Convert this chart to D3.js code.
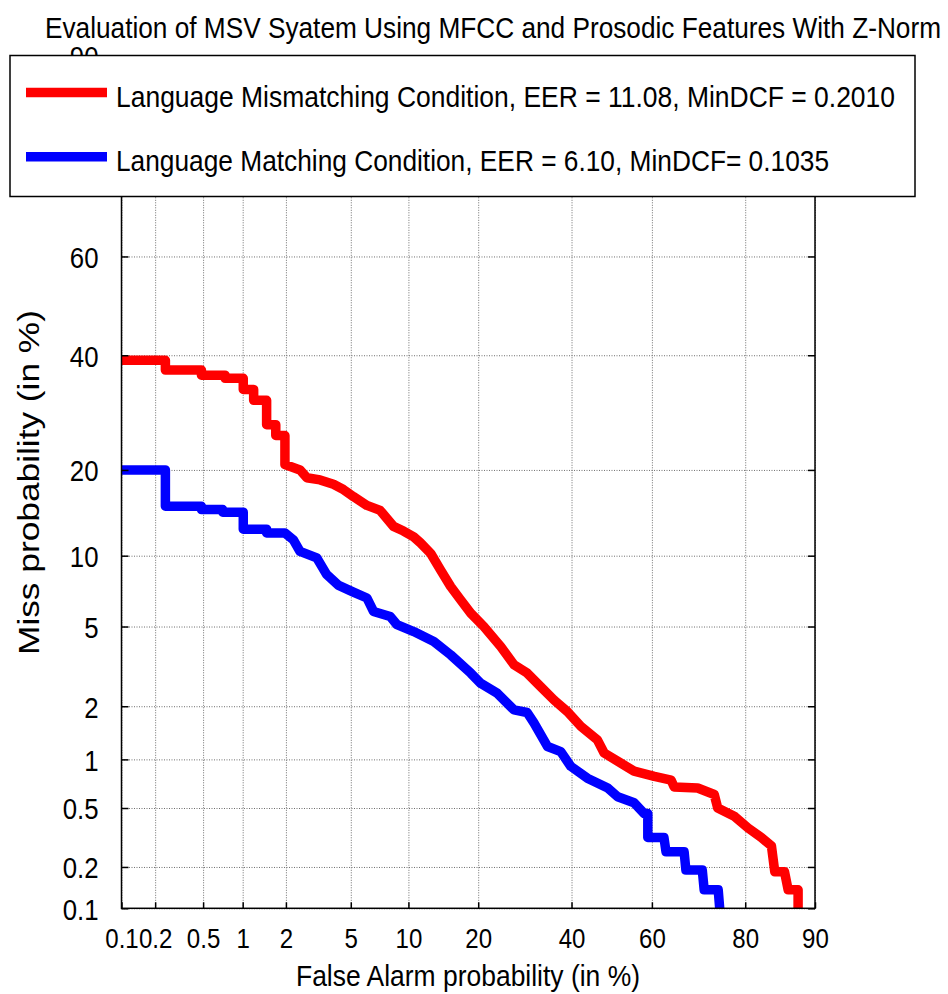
<!DOCTYPE html>
<html>
<head>
<meta charset="utf-8">
<script src="https://cdn.jsdelivr.net/npm/d3@7"></script>
<style>
    body { margin: 0; background: #fff; }
    svg text { font-family: "Liberation Sans", Arial, sans-serif; fill: #000; }
</style>
</head>
<body>
<div id="det-plot"></div>
<script>
// values (percent)
const xTicks = [0.1, 0.2, 0.5, 1, 2, 5, 10, 20, 40, 60, 80, 90];
const yTicks = [0.1, 0.2, 0.5, 1, 2, 5, 10, 20, 40, 60, 80, 90];

// language mismatching condition (red)
const mismatchFA = [0.1, 0.245, 0.245, 0.485, 0.485, 0.74, 0.74, 1.01, 1.01, 1.2, 1.2, 1.48, 1.48, 1.71, 1.71, 1.97, 1.97, 2.47, 2.73, 3.3,
    3.97, 4.54, 5.17, 6.14, 7.22, 8.45, 9.47, 10.6, 11.4, 12.7, 14.0, 15.5, 17.0, 18.7, 21.0, 24.2, 26.9, 29.7, 32.7, 35.8,
    39.0, 42.3, 46.4, 48.1, 52.3, 55.6, 60.6, 64.6, 65.3, 70.6, 74.1, 74.8, 78.1, 80.5, 82.7, 84.3, 84.8, 86.2, 86.7, 88.0, 88.0];
const mismatchMiss = [39.0, 39.0, 37.1, 37.1, 36.1, 36.1, 35.5, 35.5, 33.4, 33.4, 31.4, 31.4, 27.1, 27.1, 25.3, 25.3, 20.8, 20.0, 18.9, 18.6,
    18.0, 17.3, 16.4, 15.3, 14.7, 12.9, 12.4, 11.8, 11.2, 10.2, 8.8, 7.5, 6.6, 5.75, 5.0, 4.03, 3.28, 2.98, 2.54, 2.16,
    1.87, 1.55, 1.30, 1.09, 0.95, 0.85, 0.79, 0.75, 0.68, 0.67, 0.61, 0.50, 0.44, 0.37, 0.32, 0.28, 0.185, 0.185, 0.137, 0.137, 0.1];

// language matching condition (blue)
const matchFA = [0.1, 0.245, 0.245, 0.485, 0.485, 0.71, 0.71, 1.01, 1.01, 1.48, 1.48, 1.97, 2.24, 2.47, 3.15, 3.62, 4.23, 5.17, 6.14, 6.66,
    8.13, 8.79, 10.6, 13.1, 15.5, 18.7, 20.4, 23.5, 26.9, 29.7, 31.2, 34.3, 37.4, 39.8, 43.9, 49.0, 51.5, 55.6, 58.1, 59.0,
    59.0, 62.9, 63.4, 67.6, 68.0, 71.6, 72.0, 74.9, 75.2];
const matchMiss = [20.0, 20.0, 15.2, 15.2, 14.8, 14.8, 14.5, 14.5, 12.6, 12.6, 12.2, 12.2, 11.5, 10.4, 9.8, 8.4, 7.6, 7.1, 6.7, 5.85,
    5.55, 5.1, 4.74, 4.26, 3.67, 2.98, 2.65, 2.35, 1.91, 1.85, 1.62, 1.19, 1.11, 0.91, 0.77, 0.67, 0.59, 0.54, 0.46, 0.46,
    0.32, 0.32, 0.255, 0.255, 0.19, 0.19, 0.137, 0.137, 0.1];

const seriesNames = [
    "Language Mismatching Condition, EER = 11.08, MinDCF = 0.2010",
    "Language Matching Condition, EER = 6.10, MinDCF= 0.1035"
];
const seriesColors = ["#ff0000", "#0000ff"];

// inverse normal cdf (Acklam) - DET axes are in normal deviates
function probit(p) {
    const a = [-3.969683028665376e+01, 2.209460984245205e+02, -2.759285104469687e+02, 1.383577518672690e+02, -3.066479806614716e+01, 2.506628277459239e+00];
    const b = [-5.447609879822406e+01, 1.615858368580409e+02, -1.556989798598866e+02, 6.680131188771972e+01, -1.328068155288572e+01];
    const c = [-7.784894002430293e-03, -3.223964580411365e-01, -2.400758277161838e+00, -2.549732539343734e+00, 4.374664141464968e+00, 2.938163982698783e+00];
    const d = [7.784695709041462e-03, 3.224671290700398e-01, 2.445134137142996e+00, 3.754408661907416e+00];
    const plow = 0.02425;
    let q, r;
    if (p < plow) {
        q = Math.sqrt(-2 * Math.log(p));
        return (((((c[0]*q + c[1])*q + c[2])*q + c[3])*q + c[4])*q + c[5]) / ((((d[0]*q + d[1])*q + d[2])*q + d[3])*q + 1);
    }
    if (p <= 1 - plow) {
        q = p - 0.5; r = q*q;
        return (((((a[0]*r + a[1])*r + a[2])*r + a[3])*r + a[4])*r + a[5])*q / (((((b[0]*r + b[1])*r + b[2])*r + b[3])*r + b[4])*r + 1);
    }
    q = Math.sqrt(-2 * Math.log(1 - p));
    return -(((((c[0]*q + c[1])*q + c[2])*q + c[3])*q + c[4])*q + c[5]) / ((((d[0]*q + d[1])*q + d[2])*q + d[3])*q + 1);
}

class DetVis {
    constructor(_parentElement) {
        this.parentElement = _parentElement;
        this.initVis();
    }

    initVis() {
        let vis = this;

        vis.left = 121.5; vis.right = 815;
        vis.top = 56; vis.bottom = 908.3;

        vis.svg = d3.select("#" + vis.parentElement).append("svg")
            .attr("width", 948)
            .attr("height", 994);

        // scales work on normal deviates, ticks are placed at probit(percent)
        vis.x = d3.scaleLinear()
            .domain([probit(0.001), probit(0.9)])
            .range([vis.left, vis.right]);
        vis.y = d3.scaleLinear()
            .domain([probit(0.001), probit(0.9)])
            .range([vis.bottom, vis.top]);

        vis.px = v => vis.x(probit(v / 100));
        vis.py = v => vis.y(probit(v / 100));

        vis.svg.append("clipPath").attr("id", "plot-clip")
            .append("rect")
            .attr("x", vis.left).attr("y", vis.top)
            .attr("width", vis.right - vis.left).attr("height", vis.bottom - vis.top);

        vis.wrangleData();
    }

    wrangleData() {
        let vis = this;
        vis.displayData = [
            { name: seriesNames[0], color: seriesColors[0], values: mismatchFA.map((d, i) => ({ fa: d, miss: mismatchMiss[i] })) },
            { name: seriesNames[1], color: seriesColors[1], values: matchFA.map((d, i) => ({ fa: d, miss: matchMiss[i] })) }
        ];
        vis.updateVis();
    }

    updateVis() {
        let vis = this;
        const fmt = v => String(v);

        // grid (dotted)
        vis.svg.append("g")
            .attr("class", "grid")
            .attr("transform", `translate(0, ${vis.bottom})`)
            .call(d3.axisBottom(vis.x).tickValues(xTicks.map(v => probit(v / 100)))
                .tickSize(-(vis.bottom - vis.top)).tickFormat(""))
            .call(g => g.select(".domain").remove());
        vis.svg.append("g")
            .attr("class", "grid")
            .attr("transform", `translate(${vis.left}, 0)`)
            .call(d3.axisLeft(vis.y).tickValues(yTicks.map(v => probit(v / 100)))
                .tickSize(-(vis.right - vis.left)).tickFormat(""))
            .call(g => g.select(".domain").remove());
        vis.svg.selectAll(".grid line")
            .attr("stroke", "#6e6e6e")
            .attr("stroke-width", 1)
            .attr("stroke-dasharray", "1,1.5");

        // curves
        const line = d3.line()
            .x(d => vis.px(d.fa))
            .y(d => vis.py(d.miss));

        vis.svg.append("g")
            .attr("clip-path", "url(#plot-clip)")
            .selectAll("path")
            .data(vis.displayData)
            .enter().append("path")
            .attr("d", d => line(d.values))
            .attr("fill", "none")
            .attr("stroke", d => d.color)
            .attr("stroke-width", 9.5)
            .attr("stroke-linejoin", "round");

        // axes box
        vis.svg.append("rect")
            .attr("x", vis.left).attr("y", vis.top)
            .attr("width", vis.right - vis.left).attr("height", vis.bottom - vis.top)
            .attr("fill", "none").attr("stroke", "#000").attr("stroke-width", 1.5);

        // bottom axis - inward ticks + labels
        let xAxisGroup = vis.svg.append("g")
            .attr("class", "x-axis")
            .attr("transform", `translate(0, ${vis.bottom})`)
            .call(d3.axisBottom(vis.x).tickValues(xTicks.map(v => probit(v / 100)))
                .tickSize(-6).tickPadding(20)
                .tickFormat((d, i) => fmt(xTicks[i])));
        xAxisGroup.select(".domain").remove();
        xAxisGroup.selectAll("line").attr("stroke", "#000").attr("stroke-width", 1.5);
        xAxisGroup.selectAll("text")
            .attr("font-size", 28)
            .attr("transform", "scale(0.86,1)");

        // left axis
        let yAxisGroup = vis.svg.append("g")
            .attr("class", "y-axis")
            .attr("transform", `translate(${vis.left}, 0)`)
            .call(d3.axisLeft(vis.y).tickValues(yTicks.map(v => probit(v / 100)))
                .tickSize(-7).tickPadding(23)
                .tickFormat((d, i) => fmt(yTicks[i])));
        yAxisGroup.select(".domain").remove();
        yAxisGroup.selectAll("line").attr("stroke", "#000").attr("stroke-width", 1.5);
        yAxisGroup.selectAll("text")
            .attr("font-size", 30)
            .attr("dy", "0.36em")
            .attr("x", -23 / 0.86)
            .attr("transform", "scale(0.86,1)");

        // right side ticks
        let rightGroup = vis.svg.append("g")
            .attr("transform", `translate(${vis.right}, 0)`)
            .call(d3.axisRight(vis.y).tickValues(yTicks.map(v => probit(v / 100)))
                .tickSize(-7).tickFormat(""));
        rightGroup.select(".domain").remove();
        rightGroup.selectAll("line").attr("stroke", "#000").attr("stroke-width", 1.5);

        // axis titles
        vis.svg.append("text")
            .attr("x", 296).attr("y", 986)
            .attr("font-size", 29)
            .attr("textLength", 344).attr("lengthAdjust", "spacingAndGlyphs")
            .text("False Alarm probability (in %)");

        vis.svg.append("text")
            .attr("transform", "translate(39, 655) rotate(-90)")
            .attr("font-size", 29)
            .attr("textLength", 345).attr("lengthAdjust", "spacingAndGlyphs")
            .text("Miss probability (in %)");

        // title
        vis.svg.append("text")
            .attr("x", 45).attr("y", 37.5)
            .attr("font-size", 29)
            .attr("textLength", 896).attr("lengthAdjust", "spacingAndGlyphs")
            .text("Evaluation of MSV Syatem Using MFCC and Prosodic Features With Z-Norm");

        // legend box sits on top of the plot
        let legend = vis.svg.append("g").attr("class", "legend");
        legend.append("rect")
            .attr("x", 10).attr("y", 55.5)
            .attr("width", 905).attr("height", 141)
            .attr("fill", "#fff").attr("stroke", "#000").attr("stroke-width", 1.5);

        const legendRows = [92.5, 156.7];
        const legendLen = [779, 713];
        let items = legend.selectAll(".legend-item")
            .data(vis.displayData)
            .enter().append("g")
            .attr("class", "legend-item");
        items.append("line")
            .attr("x1", 26).attr("x2", 107)
            .attr("y1", (d, i) => legendRows[i]).attr("y2", (d, i) => legendRows[i])
            .attr("stroke", d => d.color)
            .attr("stroke-width", 9.5);
        items.append("text")
            .attr("x", 116)
            .attr("y", (d, i) => legendRows[i] + 14)
            .attr("font-size", 30)
            .attr("textLength", (d, i) => legendLen[i]).attr("lengthAdjust", "spacingAndGlyphs")
            .text(d => d.name);
    }
}

let detVis = new DetVis("det-plot");
</script>
</body>
</html>
